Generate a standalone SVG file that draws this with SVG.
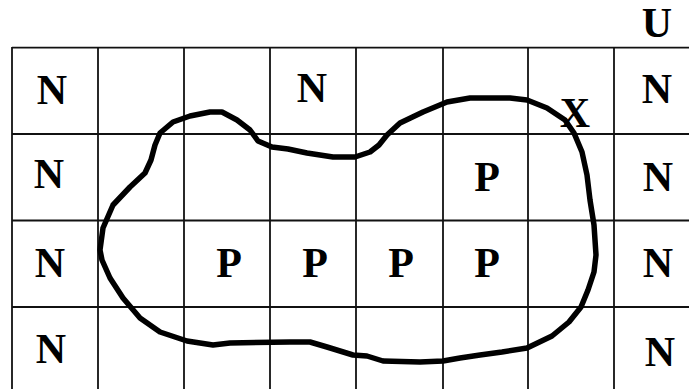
<svg xmlns="http://www.w3.org/2000/svg" width="689" height="389" viewBox="0 0 689 389">
<style>
.g{stroke:#111;stroke-width:1.8;fill:none}
.t{font-family:"Liberation Serif","Times New Roman",serif;font-weight:bold;font-size:42px;fill:#000;text-anchor:middle}
.c{fill:none;stroke:#000;stroke-width:5.5;stroke-linejoin:round;stroke-linecap:round}
</style>
<rect width="689" height="389" fill="#fff"/>
<g id="grid" class="g">
<line x1="12" y1="47.7" x2="689" y2="47.7"/>
<line x1="12" y1="134" x2="689" y2="134"/>
<line x1="12" y1="220.5" x2="689" y2="220.5"/>
<line x1="12" y1="307" x2="689" y2="307"/>
<line x1="12" y1="47" x2="12" y2="389"/>
<line x1="98" y1="47" x2="98" y2="389"/>
<line x1="184" y1="47" x2="184" y2="389"/>
<line x1="270" y1="47" x2="270" y2="389"/>
<line x1="356" y1="47" x2="356" y2="389"/>
<line x1="443" y1="47" x2="443" y2="389"/>
<line x1="528" y1="47" x2="528" y2="389"/>
<line x1="614" y1="47" x2="614" y2="389"/>
</g>
<g id="curve">
<path class="c" d="M100,250 L103,228 L113,205 L130,187 L145,173 L151,160 L155,145 L160,133 L173,122 L190,116 L210,112 L222,112 L237,120 L250,130 L258,141 L272,147 L288,149 L307,153 L333,157 L355,157 L370,152 L379,145 L387,135 L400,123 L423,112 L447,102 L470,98 L510,98 L527,100 L547,108 L565,120 L574,133 L582,152 L587,175 L590,200 L594,225 L596,255 L594,272 L588,290 L581,307 L569,322 L552,336 L527,348 L502,352 L480,355 L460,358 L443,361 L420,362 L383,361 L367,356 L353,355 L327,347 L310,342 L290,342 L230,343 L213,345 L187,341 L160,332 L140,318 L123,298 L110,278 L102,260 Z"/>
</g>
<g id="labels" class="t">
<text x="657" y="37">U</text>
<text x="52" y="104">N</text>
<text x="312" y="102">N</text>
<text x="657" y="103">N</text>
<text x="575" y="127">X</text>
<text x="49" y="188">N</text>
<text x="487" y="191">P</text>
<text x="658" y="191">N</text>
<text x="50" y="277">N</text>
<text x="229" y="277">P</text>
<text x="315" y="277">P</text>
<text x="401" y="277">P</text>
<text x="487" y="277">P</text>
<text x="658" y="277">N</text>
<text x="51" y="363">N</text>
<text x="660" y="366">N</text>
</g>
</svg>
